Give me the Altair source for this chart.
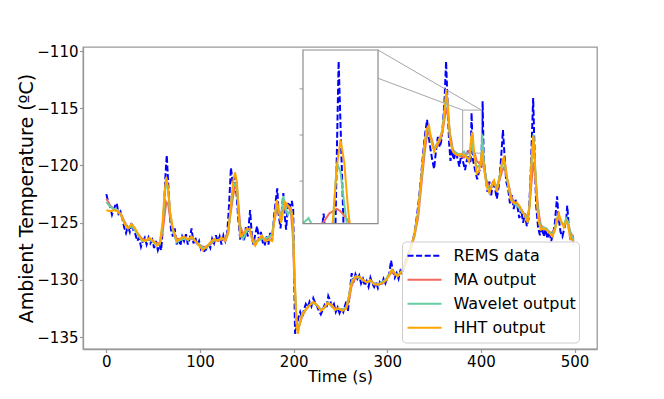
import altair as alt
import pandas as pd

# ---------------- data ----------------
rems_t = [0, 2, 4, 6, 8, 10, 11, 13, 15, 17, 19, 21, 23, 25, 27, 29, 31, 33, 35, 37,
          39, 41, 43, 45, 47, 49, 51, 53, 55, 57, 58.5, 60, 61.5, 63, 64.5, 66, 67.5, 69, 71, 73,
          75, 77, 79, 81, 83, 85, 87, 89, 91, 93, 95, 97, 99, 101, 103, 105, 107, 109, 111, 113,
          115, 117, 119, 121, 123, 125, 127, 129, 131, 133, 135, 137, 139, 141, 143, 145, 147, 149, 151, 153.5,
          155.5, 157, 159, 161, 163, 165, 167, 169, 171, 173, 175, 177, 179, 181, 182.5, 184, 186, 187.5, 189, 190.5,
          192, 194, 196, 198, 199.5, 201.5, 203, 205, 207, 209, 211, 213, 215, 217, 219, 221, 223, 225, 227, 229,
          231, 233, 235, 237, 239, 241, 243, 245, 247, 249, 251, 253, 255, 256.5, 258, 260, 262, 264, 266, 268,
          270, 272, 274, 276, 278, 280, 282, 284, 286, 288, 290, 292, 294, 296, 298, 300, 302, 304, 306, 308,
          310, 312, 314, 316, 318, 320, 322, 324, 326, 328, 330, 332, 334, 336, 338, 340, 342.5, 344, 346, 348,
          350, 352, 354, 356, 357.5, 359, 361, 362.8, 364.5, 366, 367.5, 369, 371, 373, 375, 377, 379, 381, 383, 385,
          386, 387, 389, 390, 391.5, 394, 396, 398, 400.5, 401.8, 403, 405, 407, 409, 411, 413, 415, 417, 419, 421,
          423.5, 425.5, 427, 429, 431, 433, 435, 437, 439, 441, 443, 445, 447, 449, 451, 453, 455.8, 457.5, 459, 461,
          463, 465, 467, 469, 471, 473, 475, 477, 479, 481.3, 483, 485, 487, 489, 491, 492.2, 494, 496, 498, 499]
rems_v = [-122.5, -123.2, -123.6, -124.3, -123.8, -123.4, -123.3, -124.2, -124.0, -124.6, -125.4, -125.9, -125.3, -125.8, -125.0, -125.7, -126.0, -126.6, -126.3, -127.1,
          -126.6, -126.3, -126.9, -126.3, -126.8, -126.5, -127.2, -126.6, -127.4, -126.9, -127.4, -125.8, -124.0, -121.0, -119.1, -121.5, -123.8, -125.6, -126.2, -125.5,
          -126.9, -126.3, -127.0, -126.2, -126.6, -126.0, -126.9, -126.4, -125.5, -126.8, -126.3, -127.0, -126.6, -127.3, -127.0, -127.6, -127.2, -126.8, -127.2, -126.4,
          -126.8, -126.1, -126.7, -126.2, -126.9, -126.1, -126.6, -126.0, -123.5, -120.2, -121.5, -121.0, -122.5, -124.8, -126.5, -125.8, -126.6, -125.4, -126.2, -123.9,
          -126.3, -126.9, -126.0, -125.3, -126.5, -125.8, -126.7, -127.0, -126.2, -126.9, -125.9, -126.6, -124.5, -123.0, -122.0, -124.3, -125.5, -123.8, -122.4, -124.4,
          -125.6, -123.2, -123.6, -123.1, -123.8, -134.7, -134.2, -133.3, -132.8, -133.3, -132.6, -132.1, -132.4, -131.9, -132.3, -131.6, -132.0, -132.3, -132.7, -133.0,
          -132.6, -132.2, -132.5, -131.4, -131.8, -132.4, -132.1, -132.8, -132.4, -132.9, -132.5, -132.8, -132.2, -131.8, -132.7, -131.0, -129.4, -130.2, -129.5, -129.9,
          -129.6, -130.3, -129.9, -130.5, -130.1, -130.6, -129.8, -130.3, -130.6, -130.2, -130.7, -130.2, -130.5, -129.9, -130.3, -129.8, -129.5, -128.3, -129.2, -129.8,
          -129.4, -129.9, -129.2, -129.5, -128.8, -128.3, -127.8, -127.4, -126.8, -126.3, -125.4, -124.2, -122.8, -121.0, -119.2, -117.5, -116.0, -117.3, -118.5, -119.5,
          -120.3, -118.7, -117.5, -118.4, -117.9, -116.8, -114.5, -110.9, -114.8, -118.0, -119.6, -118.6, -119.5, -118.8, -119.4, -120.1, -119.0, -119.7, -120.4, -119.5,
          -118.7, -119.8, -119.6, -115.4, -119.5, -120.5, -121.2, -120.5, -120.2, -114.4, -119.5, -121.0, -122.3, -121.4, -122.6, -121.3, -122.0, -122.9, -121.8, -120.0,
          -116.9, -119.5, -121.4, -122.0, -123.3, -122.6, -123.8, -123.0, -123.6, -124.6, -123.8, -125.0, -124.2, -125.3, -124.6, -121.0, -114.1, -119.5, -123.5, -125.4,
          -126.1, -125.3, -126.2, -125.6, -126.4, -125.7, -126.6, -126.0, -125.0, -122.7, -124.6, -125.8, -126.2, -125.5, -124.8, -123.5, -125.6, -126.6, -126.3, -126.9]

smooth_t = [0, 4, 8, 12, 16, 20, 23, 27, 30, 34,
            38, 42, 46, 50, 54, 57, 60, 62, 64, 66,
            68, 71, 75, 79, 83, 87, 91, 95, 99, 103,
            107, 111, 115, 119, 123, 127, 130, 133, 135.5, 137.5,
            139.5, 141, 143, 146, 150, 153, 156, 159, 162, 166,
            170, 174, 177, 179, 182, 184, 186.5, 189, 191, 194,
            197, 199, 201, 203, 204.5, 206, 209, 213, 217, 221,
            225, 229, 232, 236, 240, 244, 248, 252, 256, 259,
            262, 266, 270, 274, 278, 282, 286, 290, 294, 298,
            302, 305, 308, 311, 314, 317, 321, 325, 329, 333,
            337, 340, 342, 344.5, 347, 350, 353, 356, 359, 361,
            363, 365, 367, 370, 374, 378, 382, 385, 387.5, 388.5,
            389.5, 390.5, 391.5, 392.5, 393.5, 395.5, 398, 400, 401.5, 403,
            406, 409, 412, 414, 417, 420, 423, 424.5, 426, 429,
            432, 435, 438, 441, 444, 447, 450, 452, 454, 456,
            458, 460, 462, 464, 467, 470, 473, 476, 479, 481,
            483, 486, 488.5, 491, 493, 495.5, 499]
hht_v = [-123.9, -124.0, -123.9, -124.0, -124.4, -125.2, -125.5, -125.1, -125.4, -126.0,
         -126.5, -126.6, -126.3, -126.6, -127.0, -126.8, -125.0, -122.5, -121.0, -122.0,
         -124.0, -125.5, -126.6, -126.4, -126.2, -126.5, -126.2, -126.6, -127.0, -127.4,
         -127.1, -126.7, -126.4, -126.6, -126.3, -126.6, -126.0, -123.5, -121.3, -120.6,
         -121.5, -124.0, -126.2, -126.0, -125.5, -125.6, -126.6, -127.0, -126.5, -126.1,
         -126.6, -126.5, -126.6, -125.0, -123.0, -123.8, -125.0, -124.0, -123.2, -123.5,
         -123.8, -124.5, -129.5, -133.8, -134.7, -134.0, -133.0, -132.6, -132.2, -131.9,
         -132.2, -132.7, -132.5, -132.0, -132.2, -132.6, -132.5, -132.7, -132.5, -131.5,
         -130.2, -129.7, -129.7, -130.0, -130.2, -130.0, -130.4, -130.4, -130.3, -130.1,
         -129.6, -129.1, -129.4, -129.7, -129.4, -129.0, -128.2, -127.2, -126.0, -124.0,
         -120.4, -118.0, -116.8, -116.5, -117.8, -118.8, -118.2, -117.6, -117.0, -115.5,
         -113.4, -115.0, -117.8, -118.8, -119.1, -119.0, -119.1, -119.3, -119.7, -118.8,
         -117.7, -117.1, -117.6, -118.6, -119.3, -120.7, -120.5, -119.4, -118.7, -120.0,
         -121.8, -122.4, -121.6, -121.3, -122.3, -121.0, -119.5, -119.3, -120.0, -121.6,
         -123.0, -123.3, -123.2, -123.5, -124.0, -124.4, -125.0, -123.5, -119.5, -117.4,
         -120.5, -123.6, -125.0, -125.6, -125.5, -125.6, -125.9, -126.2, -125.7, -124.8,
         -124.2, -124.9, -125.4, -124.9, -125.2, -126.4, -126.6]
ma_v = [-122.9, -123.5, -123.8, -123.9, -124.3, -125.0, -125.4, -125.3, -125.5, -126.0,
        -126.4, -126.5, -126.5, -126.6, -126.8, -126.8, -125.9, -124.5, -123.2, -123.4,
        -124.5, -125.6, -126.4, -126.5, -126.4, -126.4, -126.4, -126.6, -126.9, -127.1,
        -127.1, -126.9, -126.6, -126.5, -126.5, -126.3, -125.8, -124.0, -122.6, -121.8,
        -122.0, -123.4, -125.3, -126.0, -125.7, -125.6, -126.3, -126.7, -126.5, -126.3,
        -126.5, -126.3, -126.0, -125.0, -123.8, -123.9, -124.4, -123.8, -123.5, -123.6,
        -124.0, -126.0, -130.5, -133.4, -134.2, -134.0, -133.2, -132.6, -132.2, -132.0,
        -132.2, -132.6, -132.5, -132.1, -132.1, -132.5, -132.5, -132.6, -132.5, -131.8,
        -130.5, -129.8, -129.8, -130.0, -130.2, -130.1, -130.3, -130.4, -130.3, -130.0,
        -129.6, -129.3, -129.5, -129.6, -129.4, -129.1, -128.3, -127.3, -126.2, -124.5,
        -121.2, -118.8, -117.6, -117.0, -117.6, -118.5, -118.3, -117.9, -117.1, -116.0,
        -115.0, -115.7, -117.2, -118.6, -119.0, -119.2, -119.3, -119.0, -118.7, -118.65,
        -118.6, -118.65, -118.75, -118.85, -119.0, -119.6, -119.8, -119.6, -119.4, -120.2,
        -121.3, -122.0, -121.8, -121.6, -121.8, -121.2, -120.4, -120.2, -120.5, -121.5,
        -122.6, -123.2, -123.4, -123.6, -124.0, -124.3, -124.4, -123.5, -121.5, -119.7,
        -120.8, -122.8, -124.3, -125.2, -125.5, -125.6, -125.8, -125.9, -125.5, -124.9,
        -124.6, -125.0, -125.2, -124.8, -125.0, -125.8, -126.4]
wav_v = [-123.2, -123.6, -123.8, -123.9, -124.4, -125.1, -125.5, -125.3, -125.6, -126.1,
         -126.6, -126.6, -126.4, -126.7, -126.9, -126.9, -125.4, -123.0, -121.2, -122.2,
         -124.1, -125.7, -126.7, -126.5, -126.4, -126.5, -126.3, -126.6, -126.9, -127.2,
         -127.2, -126.8, -126.5, -126.5, -126.4, -126.5, -125.9, -123.6, -121.8, -121.6,
         -122.0, -123.8, -125.9, -126.4, -125.7, -125.6, -126.5, -126.8, -126.6, -126.4,
         -126.4, -126.2, -126.0, -124.9, -123.3, -123.9, -124.8, -122.7, -123.6, -124.3,
         -123.8, -125.0, -129.8, -133.6, -134.5, -133.9, -133.0, -132.6, -132.2, -132.0,
         -132.2, -132.6, -132.5, -132.0, -132.2, -132.6, -132.5, -132.6, -132.4, -131.4,
         -130.1, -129.7, -129.8, -130.0, -130.2, -130.1, -130.3, -130.4, -130.2, -130.0,
         -129.5, -129.1, -129.4, -129.6, -129.4, -129.0, -128.2, -127.2, -126.0, -124.1,
         -120.5, -118.1, -117.0, -116.8, -117.9, -118.6, -118.1, -117.7, -116.8, -115.2,
         -113.6, -115.4, -117.6, -118.7, -118.9, -119.1, -118.8, -119.3, -119.5, -119.0,
         -117.6, -117.8, -118.5, -119.1, -119.4, -120.2, -120.0, -120.0, -117.3, -119.5,
         -121.6, -122.2, -121.7, -121.4, -122.0, -120.9, -119.8, -119.7, -120.3, -121.7,
         -122.9, -123.3, -123.5, -123.7, -124.1, -124.3, -124.7, -123.4, -119.6, -117.3,
         -120.2, -123.2, -124.7, -125.5, -125.4, -125.5, -125.8, -126.1, -125.5, -124.6,
         -124.4, -125.0, -125.3, -124.6, -124.9, -126.0, -126.5]

SERIES = ["REMS data", "MA output", "Wavelet output", "HHT output"]
COLORS = ["#0000ff", "#f26a5e", "#66cfa2", "#ffa500"]
DASHES = [[6, 2.6], [1, 0], [1, 0], [1, 0]]

x_ticks = [0, 100, 200, 300, 400, 500]
y_ticks = [-135, -130, -125, -120, -115, -110]
inset_y_ticks = [-118, -117, -116]

X_DOMAIN = [-24.95, 523.95]
Y_DOMAIN = [-136.03, -109.65]
ZOOM_X = [380.5, 400.5]
ZOOM_Y = [-118.92, -115.16]
INSET = {"x0": 0.428, "x1": 0.574, "y0": 0.415, "y1": 0.99}   # axes fractions
W, H = 514, 302

# ---------------- helpers ----------------
def clip_segment(x0, y0, x1, y1):
    dx, dy = x1 - x0, y1 - y0
    p = [-dx, dx, -dy, dy]
    q = [x0 - ZOOM_X[0], ZOOM_X[1] - x0, y0 - ZOOM_Y[0], ZOOM_Y[1] - y0]
    u0, u1 = 0.0, 1.0
    for pi, qi in zip(p, q):
        if pi == 0:
            if qi < 0:
                return None
        else:
            r = qi / pi
            if pi < 0:
                u0 = max(u0, r)
            else:
                u1 = min(u1, r)
    if u0 >= u1:
        return None
    return (x0 + u0 * dx, y0 + u0 * dy), (x0 + u1 * dx, y0 + u1 * dy)


def clip_series(ts, vs, name):
    rows, seg, prev = [], 0, None
    for i in range(len(ts) - 1):
        res = clip_segment(ts[i], vs[i], ts[i + 1], vs[i + 1])
        if res is None:
            prev = None
            continue
        a, b = res
        if prev is None or abs(prev[0] - a[0]) > 1e-9 or abs(prev[1] - a[1]) > 1e-9:
            seg += 1
            rows.append({"t": a[0], "v": a[1], "series": name, "seg": f"{name}-{seg}"})
        rows.append({"t": b[0], "v": b[1], "series": name, "seg": f"{name}-{seg}"})
        prev = b
    return rows


series_data = {
    "REMS data": (rems_t, rems_v),
    "MA output": (smooth_t, ma_v),
    "Wavelet output": (smooth_t, wav_v),
    "HHT output": (smooth_t, hht_v),
}

legend = alt.Legend(
    orient="none", legendX=319, legendY=194.5, title=None,
    labelFont="DejaVu Sans", labelFontSize=16, labelColor="black",
    symbolType="stroke", symbolSize=1156, symbolStrokeWidth=2,
    labelOffset=11, padding=2.5, rowPadding=0, symbolOffset=2, clipHeight=23.6,
    strokeColor="#cccccc", fillColor="rgba(255,255,255,0.8)", cornerRadius=4,
)
color = alt.Color("series:N", scale=alt.Scale(domain=SERIES, range=COLORS), legend=legend)
dash = alt.StrokeDash("series:N", scale=alt.Scale(domain=SERIES, range=DASHES), legend=legend)

x_main = alt.X("t:Q", scale=alt.Scale(domain=X_DOMAIN, nice=False, zero=False),
               axis=alt.Axis(values=x_ticks, title="Time (s)", titleFontSize=16,
                             titleX=W / 2, titleY=32.5, titleBaseline="alphabetic", titleAlign="center"))
y_main = alt.Y("v:Q", scale=alt.Scale(domain=Y_DOMAIN, nice=False, zero=False),
               axis=alt.Axis(values=y_ticks, title="Ambient Temperature (ºC)", titleFontSize=19,
                             titleX=-51, titleY=H / 2, titleAngle=270, titleBaseline="alphabetic",
                             titleAlign="center"))

main_layers = []
for name in SERIES:
    ts, vs = series_data[name]
    df = pd.DataFrame({"t": ts, "v": vs, "series": name})
    main_layers.append(
        alt.Chart(df).mark_line(strokeWidth=2).encode(x=x_main, y=y_main, color=color, strokeDash=dash)
    )

# zoom indicator box and connector lines (in main data coordinates)
def xm(f):
    return X_DOMAIN[0] + f * (X_DOMAIN[1] - X_DOMAIN[0])


def ym(f):
    return Y_DOMAIN[0] + f * (Y_DOMAIN[1] - Y_DOMAIN[0])


box_df = pd.DataFrame({"t": [ZOOM_X[0]], "t2": [ZOOM_X[1]], "v": [ZOOM_Y[0]], "v2": [ZOOM_Y[1]]})
main_layers.append(
    alt.Chart(box_df).mark_rect(fillOpacity=0, stroke="#a6a6a6", strokeWidth=1).encode(
        x=x_main, x2="t2:Q", y=y_main, y2="v2:Q")
)
conn_df = pd.DataFrame({
    "t": [xm(INSET["x0"]), xm(INSET["x1"])],
    "v": [ym(INSET["y1"]), ym(INSET["y1"])],
    "t2": [ZOOM_X[0], ZOOM_X[1]],
    "v2": [ZOOM_Y[1], ZOOM_Y[1]],
})
main_layers.append(
    alt.Chart(conn_df).mark_rule(color="#a6a6a6", strokeWidth=1).encode(
        x=x_main, x2="t2:Q", y=y_main, y2="v2:Q")
)
main = alt.layer(*main_layers)

# ---------------- inset ----------------
ix_scale = alt.Scale(domain=ZOOM_X, range=[INSET["x0"] * W, INSET["x1"] * W], nice=False, zero=False)
iy_scale = alt.Scale(domain=ZOOM_Y, range=[(1 - INSET["y0"]) * H, (1 - INSET["y1"]) * H], nice=False, zero=False)
x_in = alt.X("t:Q", scale=ix_scale, axis=None)
y_in = alt.Y("v:Q", scale=iy_scale, axis=None)

inset_layers = [
    alt.Chart(box_df).mark_rect(fill="white", strokeWidth=0).encode(x=x_in, x2="t2:Q", y=y_in, y2="v2:Q")
]
for name in SERIES:
    ts, vs = series_data[name]
    idf = pd.DataFrame(clip_series(ts, vs, name))
    inset_layers.append(
        alt.Chart(idf).mark_line(strokeWidth=2).encode(
            x=x_in, y=y_in, detail="seg:N", color=color, strokeDash=dash)
    )
inset_layers.append(
    alt.Chart(box_df).mark_rect(fillOpacity=0, stroke="#8c8c8c", strokeWidth=1.2).encode(
        x=x_in, x2="t2:Q", y=y_in, y2="v2:Q")
)
itick_df = pd.DataFrame({"t": [ZOOM_X[0]] * len(inset_y_ticks), "v": inset_y_ticks})
inset_layers.append(
    alt.Chart(itick_df).mark_tick(orient="horizontal", size=3.5, thickness=1.2, xOffset=-1.75,
                                  color="#8c8c8c").encode(x=x_in, y=y_in)
)
inset = alt.layer(*inset_layers)

chart = (
    alt.layer(main, inset)
    .resolve_scale(x="independent", y="independent")
    .properties(width=W, height=H,
                padding={"left": 75, "top": 39, "right": 59, "bottom": 42},
                autosize=alt.AutoSizeParams(type="none"))
    .configure(font="DejaVu Sans")
    .configure_view(stroke="#999999", strokeWidth=1.3)
    .configure_axis(domainColor="#999999", domainWidth=1.3, tickColor="#999999", tickWidth=1.2,
                    tickSize=3.5, labelPadding=1.5, labelFont="DejaVu Sans", labelFontSize=15,
                    labelColor="black", titleFont="DejaVu Sans", titleFontWeight="normal",
                    titleColor="black", grid=False)
)

chart.save("out.html", embed_options={"renderer": "svg", "actions": False})
